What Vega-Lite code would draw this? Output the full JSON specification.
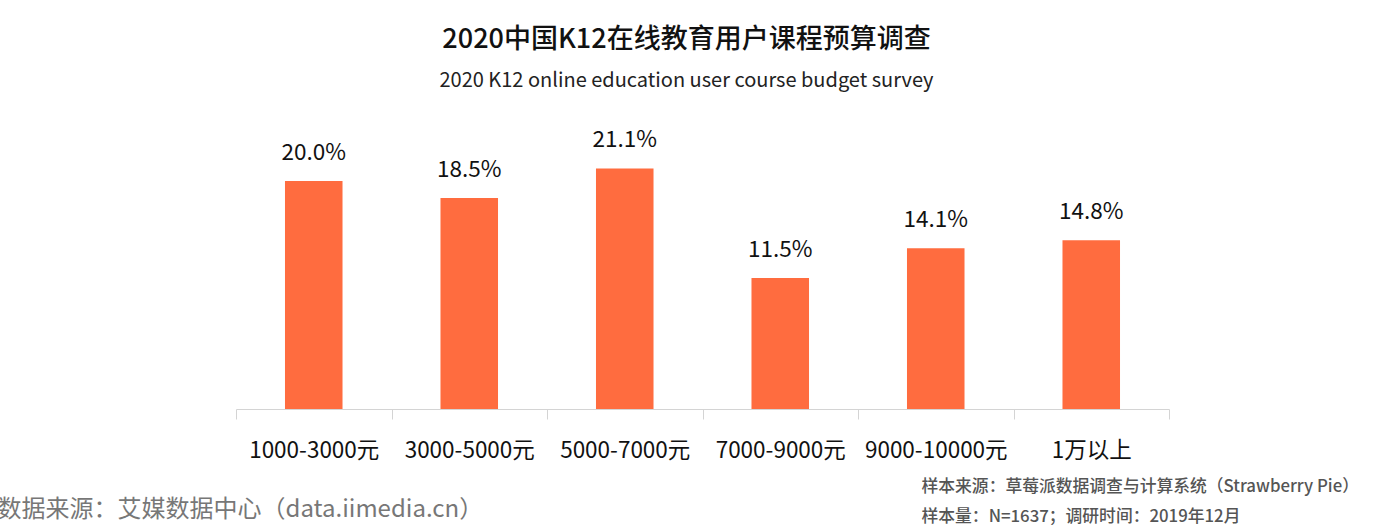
{
  "$schema": "https://vega.github.io/schema/vega-lite/v6.json",
  "autosize": {"type": "none"},
  "width": 933,
  "height": 285,
  "padding": {"left": 236, "top": 124, "right": 208, "bottom": 116},
  "background": "white",
  "config": {
    "font": "Noto Sans CJK SC",
    "view": {"stroke": null}
  },
  "title": {
    "text": "2020中国K12在线教育用户课程预算调查",
    "subtitle": "2020 K12 online education user course budget survey",
    "anchor": "middle",
    "dx": -16,
    "fontSize": 27,
    "fontWeight": 500,
    "color": "#111111",
    "subtitleFontSize": 20,
    "subtitleColor": "#222222",
    "subtitlePadding": 17,
    "offset": 32
  },
  "data": {
    "values": [
      {"range": "1000-3000元", "pct": 0.200},
      {"range": "3000-5000元", "pct": 0.185},
      {"range": "5000-7000元", "pct": 0.211},
      {"range": "7000-9000元", "pct": 0.115},
      {"range": "9000-10000元", "pct": 0.141},
      {"range": "1万以上", "pct": 0.148}
    ]
  },
  "encoding": {
    "x": {
      "field": "range",
      "type": "nominal",
      "sort": null,
      "scale": {"paddingInner": 0, "paddingOuter": 0},
      "axis": {
        "labelAngle": 0,
        "labelFontSize": 22.5,
        "labelColor": "#111111",
        "labelPadding": 20,
        "tickBand": "extent",
        "tickSize": 10,
        "tickColor": "#d4d4d4",
        "domainColor": "#d4d4d4",
        "title": ["样本来源：草莓派数据调查与计算系统（Strawberry Pie）", "样本量：N=1637；调研时间：2019年12月"],
        "titleFontSize": 16.8,
        "titleFontWeight": 500,
        "titleColor": "#555555",
        "titleAlign": "left",
        "titleAnchor": "start",
        "titleBaseline": "alphabetic",
        "titleLineHeight": 30,
        "titleX": 685,
        "titleY": 82
      }
    },
    "y": {
      "field": "pct",
      "type": "quantitative",
      "scale": {"domain": [0, 0.25]},
      "axis": {
        "domain": false,
        "ticks": false,
        "labels": false,
        "grid": false,
        "title": "数据来源：艾媒数据中心（data.iimedia.cn）",
        "titleAngle": 0,
        "titleFontSize": 24,
        "titleFontWeight": "normal",
        "titleColor": "#777777",
        "titleAlign": "left",
        "titleBaseline": "alphabetic",
        "titleX": -239,
        "titleY": 392
      }
    }
  },
  "layer": [
    {"mark": {"type": "bar", "color": "#ff6c3f", "width": {"band": 0.37}}},
    {
      "mark": {"type": "text", "baseline": "bottom", "dy": -16, "fontSize": 22.5, "color": "#111111"},
      "encoding": {"text": {"field": "pct", "type": "quantitative", "format": ".1%"}, "x": {"field": "range", "type": "nominal", "sort": null}, "y": {"field": "pct", "type": "quantitative"}}
    }
  ]
}
